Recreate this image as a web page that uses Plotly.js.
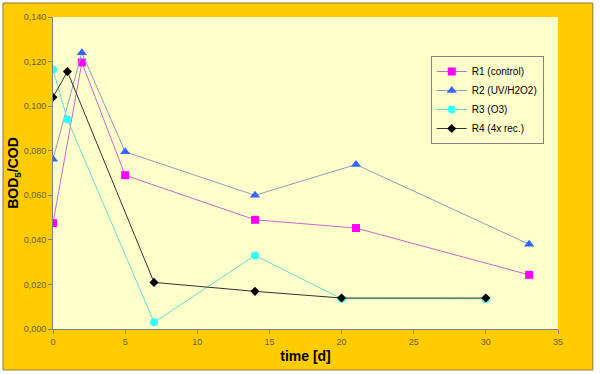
<!DOCTYPE html>
<html>
<head>
<meta charset="utf-8">
<script src="https://cdn.plot.ly/plotly-3.0.1.min.js"></script>
<style>html,body{margin:0;padding:0;background:#fff;}#chart{width:600px;height:374px;}</style>
</head>
<body>
<div id="chart"></div>
<script>
// Data
const seriesNames = ["R1 (control)", "R2 (UV/H2O2)", "R3 (O3)", "R4 (4x rec.)"];
const r1Days = [0, 2, 5, 14, 21, 33];
const r1Values = [0.0475, 0.1196, 0.0690, 0.0490, 0.0453, 0.0243];
const r2Days = [0, 2, 5, 14, 21, 33];
const r2Values = [0.0762, 0.1240, 0.0795, 0.0600, 0.0738, 0.0380];
const r3Days = [0, 1, 7, 14, 20, 30];
const r3Values = [0.1164, 0.0940, 0.0030, 0.0330, 0.0136, 0.0135];
const r4Days = [0, 1, 7, 14, 20, 30];
const r4Values = [0.1040, 0.1155, 0.0209, 0.0169, 0.0139, 0.0139];
const yTickValues = [0, 0.02, 0.04, 0.06, 0.08, 0.10, 0.12, 0.14];
const xTickValues = [0, 5, 10, 15, 20, 25, 30, 35];

const traces = [
  {x: r1Days, y: r1Values, name: seriesNames[0], mode: "lines+markers",
   line: {color: "#CC66CC", width: 1},
   marker: {symbol: "square", size: 8, color: "#FF00FF"}},
  {x: r2Days, y: r2Values, name: seriesNames[1], mode: "lines+markers",
   line: {color: "#8E9CC4", width: 1},
   marker: {symbol: "triangle-up", size: 9, color: "#3366FF"}},
  {x: r3Days, y: r3Values, name: seriesNames[2], mode: "lines+markers",
   line: {color: "#66DDCC", width: 1},
   marker: {symbol: "circle", size: 8, color: "#33FFFF"}},
  {x: r4Days, y: r4Values, name: seriesNames[3], mode: "lines+markers",
   line: {color: "#333333", width: 1},
   marker: {symbol: "diamond", size: 7, color: "#000000"}}
];

const tickFont = {family: "Liberation Sans, Arial, sans-serif", size: 9, color: "#6B5E2A"};

const layout = {
  width: 600, height: 374,
  margin: {l: 53, r: 42, t: 17, b: 45, pad: 0},
  paper_bgcolor: "#FFFFFF",
  plot_bgcolor: "#FFFFCC",
  separators: ", ",
  showlegend: true,
  legend: {
    x: 0.748, y: 0.875, xanchor: "left", yanchor: "top",
    bgcolor: "#FFFFCC", bordercolor: "#808080", borderwidth: 1,
    font: {family: "Liberation Sans, Arial, sans-serif", size: 10, color: "#000"},
    itemwidth: 30, tracegroupgap: 0
  },
  xaxis: {
    range: [0, 35], tickvals: xTickValues, ticktext: xTickValues.map(String),
    showgrid: false, zeroline: false, showline: true, linecolor: "#808080", linewidth: 1,
    ticks: "outside", ticklen: 4, tickcolor: "#808080", tickfont: tickFont,
    title: {text: "time [d]", standoff: 5,
            font: {family: "Liberation Sans, Arial, sans-serif", size: 14, color: "#000", weight: "bold"}}
  },
  yaxis: {
    range: [0, 0.14], tickvals: yTickValues, tickformat: ".3f",
    showgrid: false, zeroline: false, showline: true, linecolor: "#808080", linewidth: 1,
    ticks: "outside", ticklen: 4, tickcolor: "#808080", tickfont: tickFont,
    title: {text: "BOD<sub>5</sub>/COD", standoff: 1,
            font: {family: "Liberation Sans, Arial, sans-serif", size: 14, color: "#000", weight: "bold"}}
  },
  shapes: [
    {type: "rect", xref: "paper", yref: "paper", layer: "below",
     x0: -0.099, x1: 1.069, y0: -0.1314, y1: 1.0449,
     fillcolor: "#FFCC00", line: {color: "#8C7A3A", width: 1}},
    {type: "rect", xref: "paper", yref: "paper", layer: "below",
     x0: 0, x1: 1, y0: 0, y1: 1,
     fillcolor: "#FFFFCC", line: {width: 0}}
  ]
};

Plotly.newPlot("chart", traces, layout, {displayModeBar: false, staticPlot: true});
</script>
</body>
</html>
